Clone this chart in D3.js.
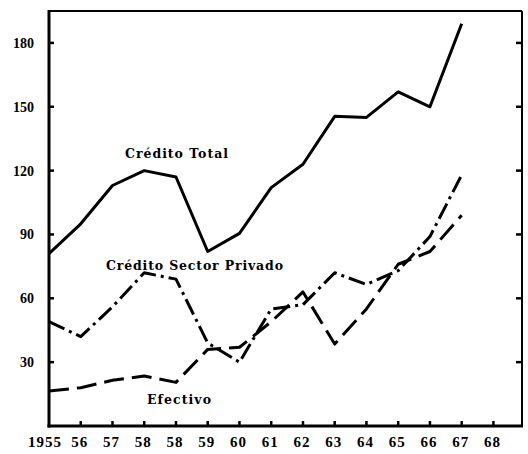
<!DOCTYPE html>
<html>
<head>
<meta charset="utf-8">
<script src="https://cdn.jsdelivr.net/npm/d3@7"></script>
<style>
  body { margin: 0; background: #fff; }
  svg text { font-family: "Liberation Serif", "DejaVu Serif", serif; font-weight: bold; fill: #000; }
  svg text.serie-label { font-family: "DejaVu Serif", serif; }
</style>
</head>
<body>
<div id="chart"></div>
<script>
// x positions (the original repeats "58")
const years = ["1955", "56", "57", "58", "58", "59", "60", "61", "62", "63", "64", "65", "66", "67", "68"];
const yTicks = [30, 60, 90, 120, 150, 180];

// series values, one per year from 1955 to 67
const creditoTotal = [81, 95, 113, 120, 117, 82, 90.5, 112, 123, 145.5, 145, 157, 150, 189];
const creditoPrivado = [49, 42, 56, 72, 69, 39, 30, 55, 57, 72, 66.5, 73, 89, 118];
const efectivo = [16.5, 18, 21.5, 23.5, 20.5, 36, 37, 49, 63, 38.5, 55, 76, 82, 99];

const width = 528, height = 454;
const svg = d3.select("#chart").append("svg")
  .attr("width", width)
  .attr("height", height);

const plotLeft = 49, plotRight = 522, plotTop = 11, plotBottom = 426;

//index scale, last label sits a bit before the right border
const x = d3.scaleLinear().domain([0, 14.9]).range([plotLeft, plotRight]);
const y = d3.scaleLinear().domain([0, 195]).range([plotBottom, plotTop]);

//frame: heavy left and bottom, lighter top and right
svg.append("line").attr("x1", plotLeft).attr("x2", plotRight).attr("y1", plotTop).attr("y2", plotTop)
  .attr("stroke", "#000").attr("stroke-width", 2);
svg.append("line").attr("x1", plotRight).attr("x2", plotRight).attr("y1", plotTop).attr("y2", plotBottom)
  .attr("stroke", "#000").attr("stroke-width", 2);
svg.append("line").attr("x1", plotLeft).attr("x2", plotLeft).attr("y1", plotTop - 1).attr("y2", plotBottom + 1.5)
  .attr("stroke", "#000").attr("stroke-width", 3);
svg.append("line").attr("x1", plotLeft - 1.5).attr("x2", plotRight + 1).attr("y1", plotBottom).attr("y2", plotBottom)
  .attr("stroke", "#000").attr("stroke-width", 3);

//y ticks, inward on both sides
yTicks.forEach((t) => {
  svg.append("line").attr("x1", plotLeft).attr("x2", plotLeft + 5).attr("y1", y(t)).attr("y2", y(t))
    .attr("stroke", "#000").attr("stroke-width", 2.5);
  svg.append("line").attr("x1", plotRight - 6).attr("x2", plotRight).attr("y1", y(t)).attr("y2", y(t))
    .attr("stroke", "#000").attr("stroke-width", 2.5);
  svg.append("text")
    .attr("x", 34)
    .attr("y", y(t) + 5)
    .attr("text-anchor", "end")
    .attr("font-size", 14)
    .text(t);
});

//x ticks and labels
years.forEach((label, i) => {
  if (i > 0) {
    svg.append("line").attr("x1", x(i)).attr("x2", x(i)).attr("y1", plotBottom).attr("y2", plotBottom - 5)
      .attr("stroke", "#000").attr("stroke-width", 2.5);
  }
  svg.append("text")
    .attr("x", i === 0 ? x(i) - 4 : x(i) - 1)
    .attr("y", 447)
    .attr("text-anchor", "middle")
    .attr("font-size", 15)
    .attr("letter-spacing", 1)
    .text(label);
});

const line = d3.line()
  .x((d, i) => x(i))
  .y((d) => y(d));

const series = [
  { values: creditoTotal, dash: null },
  { values: creditoPrivado, dash: "17,5,3,5" },
  { values: efectivo, dash: "20,8" },
];

svg.selectAll(".serie")
  .data(series)
  .enter()
  .append("path")
  .attr("class", "serie")
  .attr("d", (d) => line(d.values))
  .attr("fill", "none")
  .attr("stroke", "#000")
  .attr("stroke-width", 3)
  .attr("stroke-linejoin", "round")
  .attr("stroke-dasharray", (d) => d.dash);

//series names written on the chart
const labels = [
  { text: "Crédito Total", x: 125, y: 158, w: 103 },
  { text: "Crédito Sector Privado", x: 106, y: 270, w: 177 },
  { text: "Efectivo", x: 147, y: 404, w: 64 },
];
labels.forEach((l) => {
  svg.append("text")
    .attr("class", "serie-label")
    .attr("x", l.x)
    .attr("y", l.y)
    .attr("font-size", 12.5)
    .attr("textLength", l.w)
    .attr("lengthAdjust", "spacing")
    .text(l.text);
});
</script>
</body>
</html>
